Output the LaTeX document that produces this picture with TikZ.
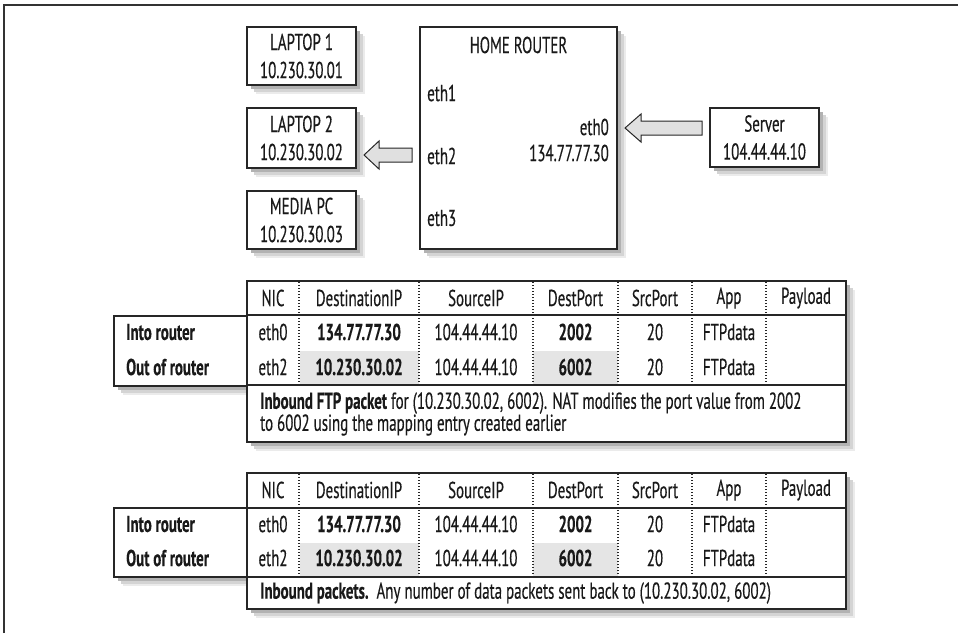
\documentclass[tikz,border=0pt]{standalone}
\usepackage{fontspec}
\setmainfont{PT Sans}[FakeStretch=0.65, UprightFeatures={FakeBold=0.35}, BoldFeatures={FakeBold=0.3}]
\usetikzlibrary{shadows,calc}
\begin{document}
\begin{tikzpicture}[x=1pt,y=-1pt,
  every node/.style={font=\fontsize{23}{28}\selectfont, inner sep=0pt, text=black!90},
  shd/.style={general shadow={shadow xshift=9pt,shadow yshift=-9pt,fill=black!8},
              general shadow={shadow xshift=6.5pt,shadow yshift=-6.5pt,fill=black!17},
              general shadow={shadow xshift=4pt,shadow yshift=-4pt,fill=black!30}},
  box/.style={draw=black!85, line width=2pt, fill=white, align=center, shd},
  frm/.style={draw=black!80, line width=1.5pt},
  tbl/.style={draw=black!85, line width=2pt},
  sep/.style={draw=black!85, line width=1.8pt},
  dots/.style={draw=black!85, line width=1.3pt, dash pattern=on 1.4pt off 1.6pt},
  hil/.style={fill=black!10},
  barrow/.style={draw=black!85, line width=1pt, fill=black!12, line join=miter},
  lbl/.style={font=\fontsize{23}{28}\selectfont\bfseries, anchor=west},
  bf/.style={font=\fontsize{23}{28}\selectfont\bfseries}
]
\useasboundingbox (0,0) rectangle (958,633);
% outer frame (cropped)
\draw[frm] (4,633) -- (4,5) -- (958,5);

% top devices
\node[box, minimum width=109pt, minimum height=58pt] (lap1) at (301.5,56) {LAPTOP 1\\10.230.30.01};
\node[box, minimum width=109pt, minimum height=60pt] (lap2) at (301.5,138) {LAPTOP 2\\10.230.30.02};
\node[box, minimum width=109pt, minimum height=58pt] (media) at (301.5,220) {MEDIA PC\\10.230.30.03};
\node[box, minimum width=197pt, minimum height=222pt] (router) at (518.5,138) {};
\node (rtitle) at (518.5,45) {HOME ROUTER};
\node[anchor=west] (eth1) at (427,93) {eth1};
\node[anchor=west] (eth2) at (427,156) {eth2};
\node[anchor=west] (eth3) at (427,218) {eth3};
\node[anchor=east] (eth0) at (609,127) {eth0};
\node[anchor=east] (rip) at (609,153) {134.77.77.30};
\node[box, minimum width=109pt, minimum height=59pt] (server) at (764.5,137.5) {Server\\104.44.44.10};

% block arrows
\coordinate (a1tip) at ($(router.east)+(7,-10)$);
\coordinate (a1tail) at ($(server.west)+(-7,-9.5)$);
\draw[barrow] (a1tip) -- ++(16,-14) -- ++(0,7) -- ($(a1tail)+(0,-7)$) -- ($(a1tail)+(0,7)$) -- ($(a1tip)+(16,7)$) -- ++(0,7) -- cycle;
\coordinate (a2tip) at ($(lap2.east)+(7,17)$);
\coordinate (a2tail) at ($(router.west)+(-7,17)$);
\draw[barrow] (a2tip) -- ++(15,-14) -- ++(0,7) -- ($(a2tail)+(0,-7)$) -- ($(a2tail)+(0,7)$) -- ($(a2tip)+(15,7)$) -- ++(0,7) -- cycle;

% ---------- table 1 ----------
\path[tbl, fill=white, shd] (114,316) rectangle (247,386);
\path[tbl, fill=white, shd] (247,281) rectangle (846,442);
\fill[hil] (300,351) rectangle (419,385);
\fill[hil] (533,351) rectangle (618,385);
\foreach \x in {299,419,533,618,692,766} \draw[dots] (\x,282) -- (\x,384);
\draw[sep] (247,315) -- (846,315);
\draw[sep] (247,385) -- (846,385);
\draw[tbl] (114,316) rectangle (247,386);
\draw[tbl] (247,281) rectangle (846,442);
\node (hA1) at (273,298) {NIC};
\node (hA2) at (359,298) {DestinationIP};
\node (hA3) at (476,298) {SourceIP};
\node (hA4) at (575.5,298) {DestPort};
\node (hA5) at (655,298) {SrcPort};
\node (hA6) at (729,298) {App};
\node (hA7) at (806,298) {Payload};
\node[lbl] (lA1) at (126,332) {Into router};
\node[lbl] (lA2) at (126,367) {Out of router};
\node (rA11) at (273,332) {eth0};
\node[bf] (rA12) at (359,332) {134.77.77.30};
\node (rA13) at (476,332) {104.44.44.10};
\node[bf] (rA14) at (575.5,332) {2002};
\node (rA15) at (655,332) {20};
\node (rA16) at (729,332) {FTPdata};
\node (rA21) at (273,367) {eth2};
\node[bf] (rA22) at (359,367) {10.230.30.02};
\node (rA23) at (476,367) {104.44.44.10};
\node[bf] (rA24) at (575.5,367) {6002};
\node (rA25) at (655,367) {20};
\node (rA26) at (729,367) {FTPdata};
\node[anchor=west, align=left, font=\fontsize{23}{22}\selectfont] (capA) at (260,414)
  {\textbf{Inbound FTP packet} for (10.230.30.02, 6002). NAT modifies the port value from 2002\\to 6002 using the mapping entry created earlier};

% ---------- table 2 ----------
\path[tbl, fill=white, shd] (114,508) rectangle (247,577);
\path[tbl, fill=white, shd] (247,473) rectangle (846,609);
\fill[hil] (300,543) rectangle (419,577);
\fill[hil] (533,543) rectangle (618,577);
\foreach \x in {299,419,533,618,692,766} \draw[dots] (\x,474) -- (\x,576);
\draw[sep] (247,508) -- (846,508);
\draw[sep] (247,577) -- (846,577);
\draw[tbl] (114,508) rectangle (247,577);
\draw[tbl] (247,473) rectangle (846,609);
\node (hB1) at (273,490) {NIC};
\node (hB2) at (359,490) {DestinationIP};
\node (hB3) at (476,490) {SourceIP};
\node (hB4) at (575.5,490) {DestPort};
\node (hB5) at (655,490) {SrcPort};
\node (hB6) at (729,490) {App};
\node (hB7) at (806,490) {Payload};
\node[lbl] (lB1) at (126,524) {Into router};
\node[lbl] (lB2) at (126,558) {Out of router};
\node (rB11) at (273,524) {eth0};
\node[bf] (rB12) at (359,524) {134.77.77.30};
\node (rB13) at (476,524) {104.44.44.10};
\node[bf] (rB14) at (575.5,524) {2002};
\node (rB15) at (655,524) {20};
\node (rB16) at (729,524) {FTPdata};
\node (rB21) at (273,558) {eth2};
\node[bf] (rB22) at (359,558) {10.230.30.02};
\node (rB23) at (476,558) {104.44.44.10};
\node[bf] (rB24) at (575.5,558) {6002};
\node (rB25) at (655,558) {20};
\node (rB26) at (729,558) {FTPdata};
\node[anchor=west] (capB) at (260,593)
  {\textbf{Inbound packets.}\ \ Any number of data packets sent back to (10.230.30.02, 6002)};
\end{tikzpicture}
\end{document}
